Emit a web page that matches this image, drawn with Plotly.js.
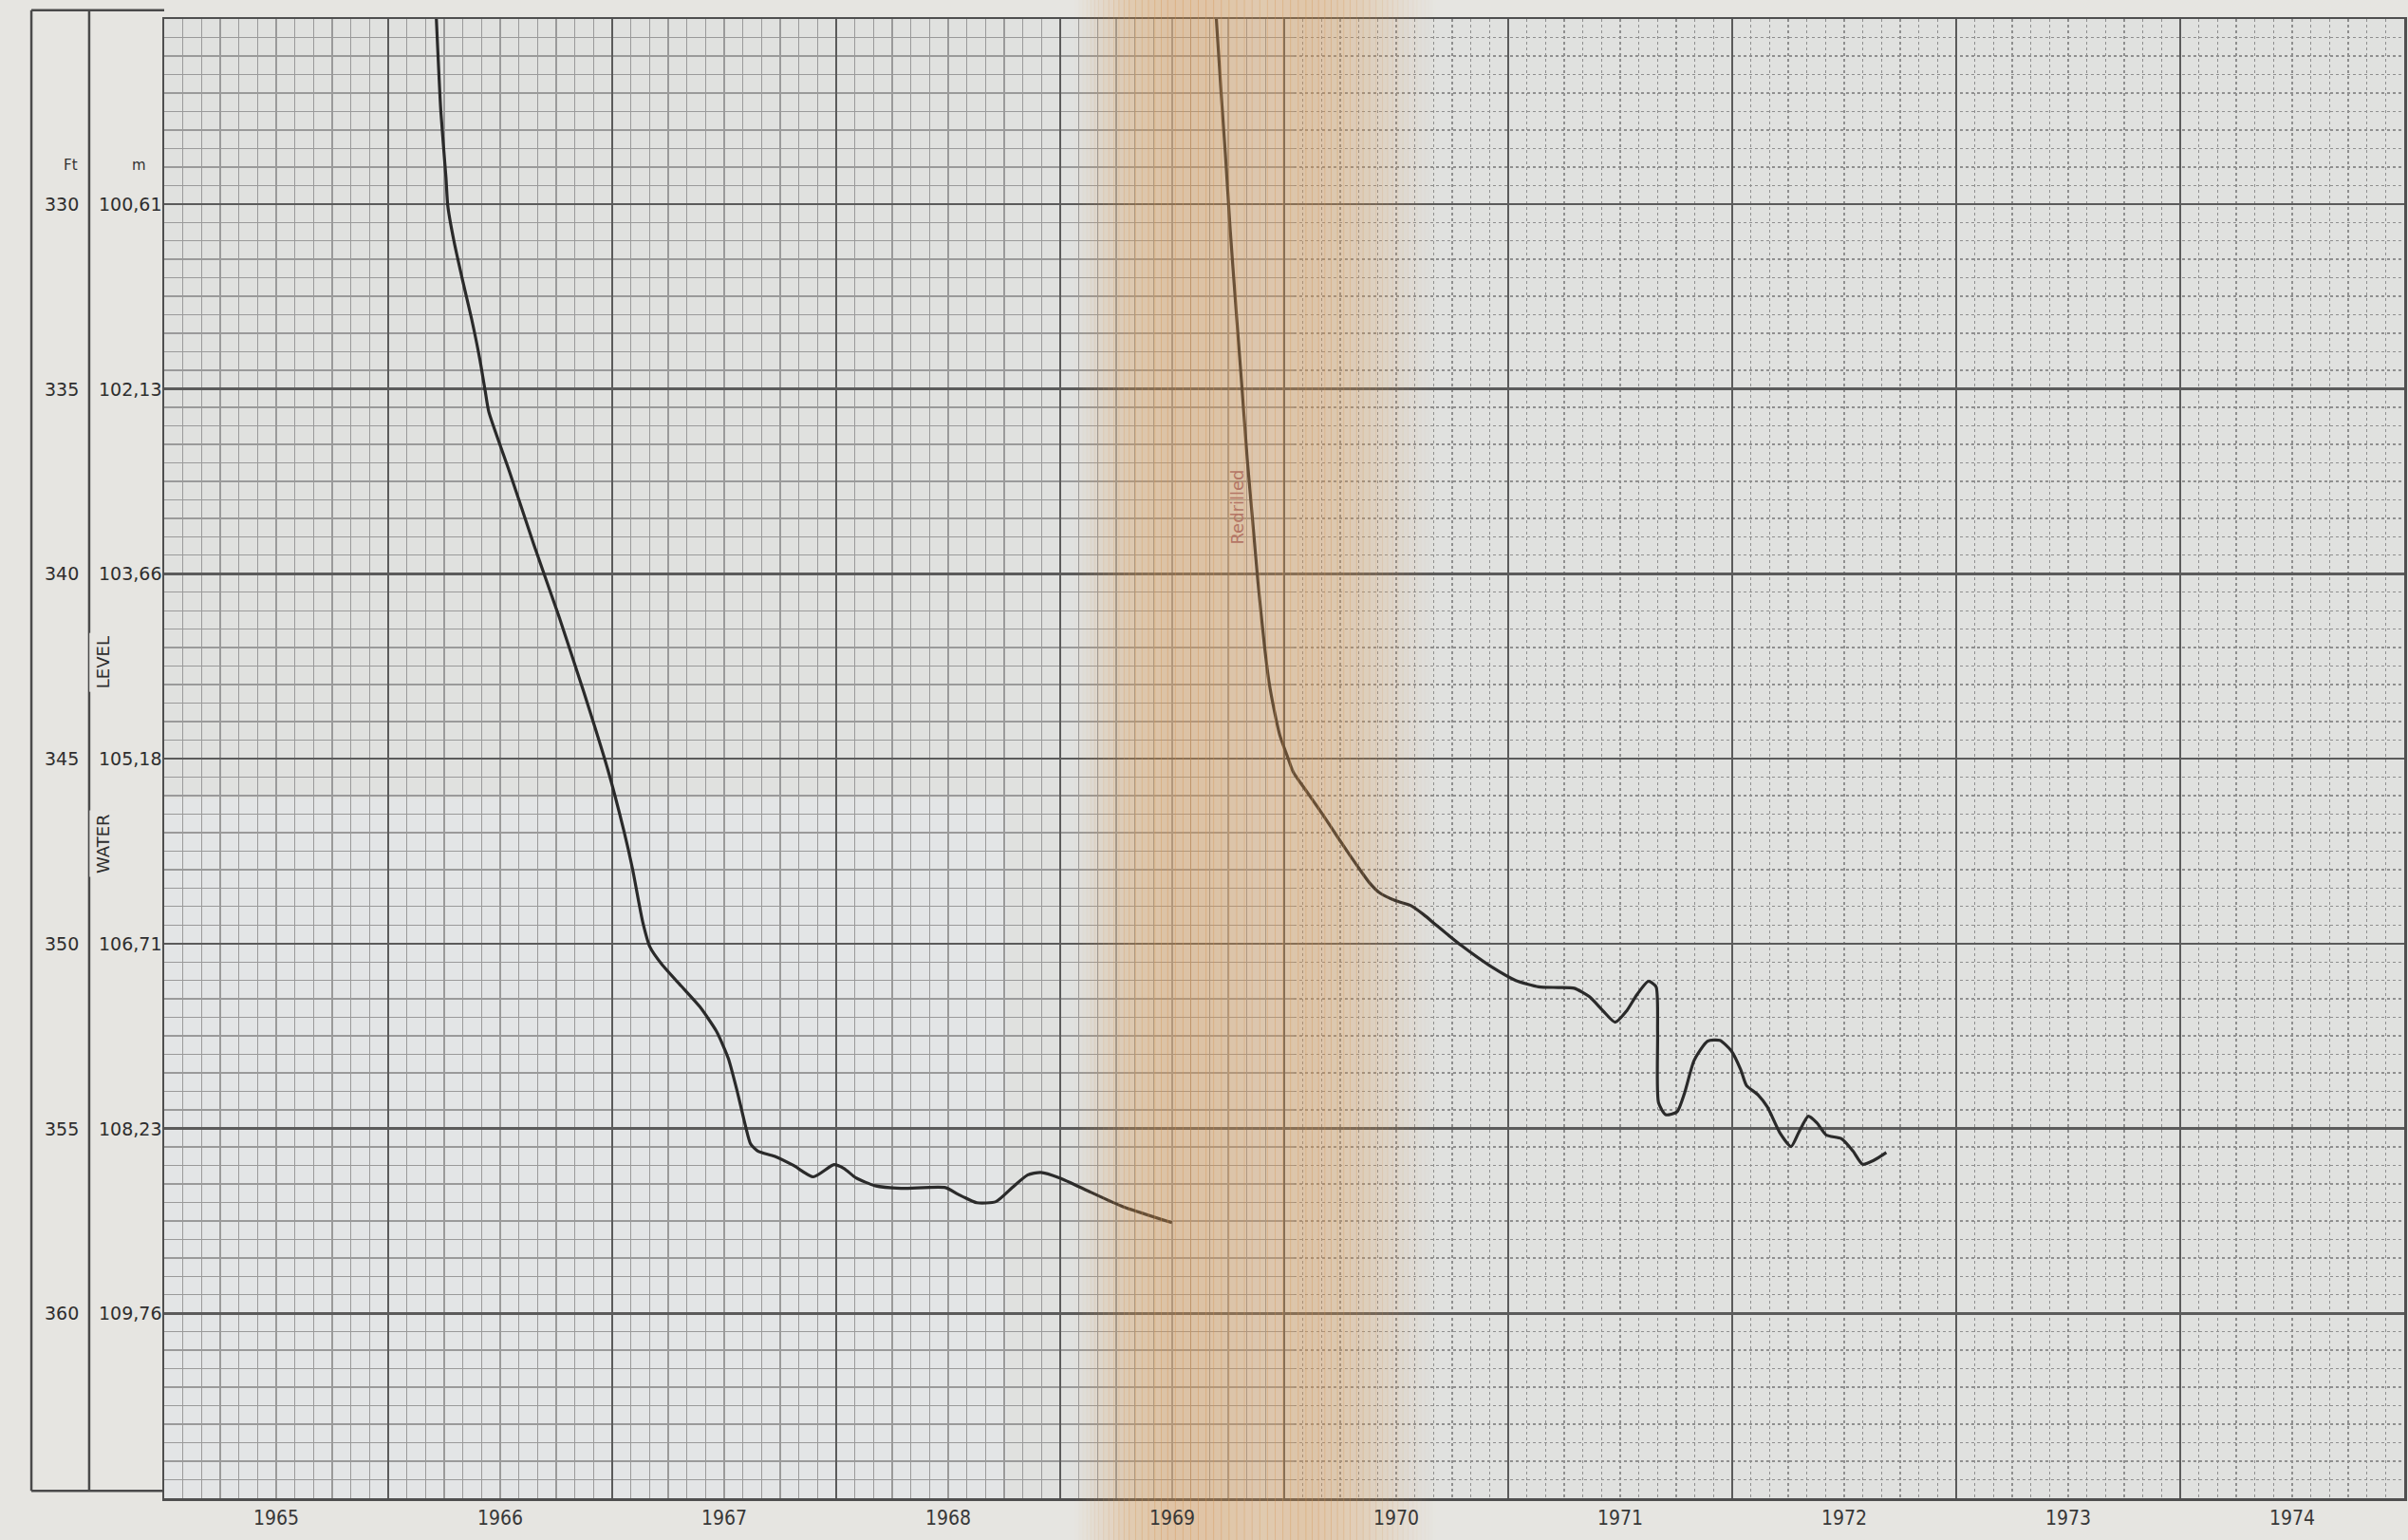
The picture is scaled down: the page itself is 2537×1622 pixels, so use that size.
<!DOCTYPE html>
<html>
<head>
<meta charset="utf-8">
<script src="https://cdn.plot.ly/plotly-3.0.1.min.js"></script>
<style>
html,body{margin:0;padding:0;background:#e7e6e2;}
#chart{width:2537px;height:1622px;}
</style>
</head>
<body>
<div id="chart"></div>
<script>
// ---------- data ----------
const yearLabels  = ['1965','1966','1967','1968','1969','1970','1971','1972','1973','1974'];
const yearCenters = [1965.5,1966.5,1967.5,1968.5,1969.5,1970.5,1971.5,1972.5,1973.5,1974.5];

const feetTicks  = [330,335,340,345,350,355,360];
const feetLabels = ['330','335','340','345','350','355','360'];
const meterLabels = ['100,61','102,13','103,66','105,18','106,71','108,23','109,76'];

// first well (water level, ft)
const well1Date = [1966.215,1966.235,1966.258,1966.266,1966.293,1966.333,1966.372,1966.409,1966.433,1966.449,
  1966.542,1966.650,1966.763,1966.871,1966.980,1967.052,1967.090,1967.136,1967.169,1967.221,
  1967.308,1967.391,1967.465,1967.518,1967.559,1967.596,1967.618,1967.652,1967.724,1967.809,
  1967.898,1967.990,1968.034,1968.089,1968.174,1968.289,1968.488,1968.544,1968.628,1968.713,
  1968.786,1968.854,1968.913,1968.998,1969.138,1969.278,1969.499];
const well1Level = [325.0,327.5,329.3,330.05,330.99,332.09,333.10,334.20,335.06,335.62,
  337.25,339.21,341.17,343.16,345.29,346.95,347.96,349.41,350.10,350.56,
  351.15,351.71,352.37,353.10,354.02,354.96,355.42,355.62,355.75,356.00,
  356.31,355.98,356.08,356.34,356.55,356.62,356.60,356.78,357.01,356.98,
  356.60,356.26,356.19,356.34,356.73,357.11,357.55];

// redrilled well
const well2Date = [1969.697,1969.718,1969.737,1969.759,1969.784,1969.810,1969.835,1969.859,1969.883,1969.911,
  1969.932,1969.957,1969.981,1970.013,1970.040,1970.097,1970.157,1970.212,1970.267,1970.326,
  1970.381,1970.424,1970.496,1970.564,1970.623,1970.678,1970.792,1970.928,1971.034,1971.136,
  1971.223,1971.295,1971.363,1971.423,1971.478,1971.529,1971.575,1971.626,1971.660,1971.667,
  1971.671,1971.703,1971.754,1971.788,1971.830,1971.890,1971.945,1971.996,1972.038,1972.064,
  1972.115,1972.157,1972.212,1972.263,1972.297,1972.340,1972.378,1972.420,1972.488,1972.539,
  1972.582,1972.633,1972.688];
const well2Level = [325.0,326.96,328.62,330.70,332.77,334.85,336.90,338.56,340.24,341.90,
  342.92,343.74,344.38,344.92,345.36,345.86,346.38,346.88,347.38,347.90,
  348.36,348.62,348.84,348.97,349.22,349.50,350.06,350.64,351.00,351.17,
  351.19,351.21,351.44,351.82,352.13,351.82,351.38,351.02,351.17,352.40,
  354.30,354.63,354.55,354.03,353.16,352.64,352.62,352.90,353.41,353.84,
  354.09,354.42,355.11,355.49,355.11,354.67,354.85,355.18,355.28,355.61,
  355.97,355.86,355.65];

const redrillNote = 'Redrilled';
const redrillAt = {x: 1969.79, y: 338.2};

// ---------- styling ----------
const INK = '#2a2a2a';
const PAPER = '#e6e5e1';
const COL_OUTER = -0.0593, COL_SEP = -0.0335;
const FEET_X = -0.0458, METER_X = -0.0152;
const X_START = 1965, X_END = 1975;
// the right half of the sheet has a fainter, broken minor ruling; split half a month after 1970
const SPLIT = 1970 + 1/24;
const SPLIT_DOM = (SPLIT - X_START) / (X_END - X_START);

const curveLine = {color: INK, width: 3.2, shape: 'spline', smoothing: 0.6};
const traces = [
  {x: well1Date, y: well1Level, xaxis:'x', yaxis:'y', mode: 'lines', hoverinfo: 'skip', showlegend: false, line: curveLine},
  {x: well2Date, y: well2Level, xaxis:'x', yaxis:'y', mode: 'lines', hoverinfo: 'skip', showlegend: false, line: curveLine},
  {x: well2Date, y: well2Level, xaxis:'x2', yaxis:'y2', mode: 'lines', hoverinfo: 'skip', showlegend: false, line: curveLine}
];

const shapes = [];
// slightly bluish, lighter lower-left part of the sheet
shapes.push({type:'rect', xref:'paper', yref:'paper', x0:0, x1:0.376, y0:0, y1:0.473,
  fillcolor:'rgba(230,234,240,0.45)', line:{width:0}, layer:'below'});

// label column frame
const lineStyle = {color:'#4a4a4a', width:2.5};
shapes.push({type:'line', xref:'paper', yref:'paper', x0:COL_OUTER, x1:COL_OUTER, y0:0.005, y1:1.006, line:lineStyle});
shapes.push({type:'line', xref:'paper', yref:'paper', x0:COL_SEP, x1:COL_SEP, y0:0.005, y1:1.006, line:lineStyle});
shapes.push({type:'line', xref:'paper', yref:'paper', x0:COL_OUTER, x1:0, y0:1.006, y1:1.006, line:lineStyle});
shapes.push({type:'line', xref:'paper', yref:'paper', x0:COL_OUTER, x1:0, y0:0.005, y1:0.005, line:lineStyle});

// book-gutter discolouration of the scanned sheet, drawn as a soft band
const bandX = [0.4066,0.4169,0.4306,0.4478,0.4683,0.4889,0.5095,0.5264,0.5437,0.5574,0.5677];
const bandA = [0,0.3,0.75,0.95,0.95,0.8,0.9,0.75,0.42,0.15,0];
const PEAK = 0.42;
for (let s = 0; s < bandX.length - 1; s++) {
  const steps = 6;
  for (let k = 0; k < steps; k++) {
    const t0 = k / steps, t1 = (k + 1) / steps, tm = (t0 + t1) / 2;
    const a = (bandA[s] + (bandA[s+1] - bandA[s]) * tm) * PEAK;
    const x0 = bandX[s] + (bandX[s+1] - bandX[s]) * t0;
    const x1 = bandX[s] + (bandX[s+1] - bandX[s]) * t1 + 0.0004;
    shapes.push({type:'rect', xref:'paper', yref:'paper', x0:x0, x1:x1, y0:-0.03, y1:1.02,
      fillcolor:'rgba(214,148,78,' + a.toFixed(3) + ')', line:{width:0}, layer:'above'});
  }
}

const annotations = [];
const labelFont = {family:'DejaVu Sans, Noto Sans, sans-serif', size:19, color:'#2e2e2e'};
feetTicks.forEach((v, i) => {
  annotations.push({xref:'paper', yref:'y', x:FEET_X, y:v, text:feetLabels[i], showarrow:false,
    xanchor:'center', yanchor:'middle', font:labelFont});
  annotations.push({xref:'paper', yref:'y', x:METER_X, y:v, text:meterLabels[i], showarrow:false,
    xanchor:'center', yanchor:'middle', font:labelFont});
});
annotations.push({xref:'paper', yref:'y', x:FEET_X, y:328.95, text:'Ft', showarrow:false,
  font:{family:'DejaVu Sans, sans-serif', size:15, color:'#333'}});
annotations.push({xref:'paper', yref:'y', x:METER_X, y:328.95, text:'m', showarrow:false,
  font:{family:'DejaVu Sans, sans-serif', size:15, color:'#333'}});
annotations.push({xref:'paper', yref:'y', x:COL_SEP, y:342.4, text:'LEVEL', showarrow:false, textangle:-90,
  bgcolor:PAPER, borderpad:3, font:{family:'DejaVu Sans, sans-serif', size:18, color:'#2e2e2e'}});
annotations.push({xref:'paper', yref:'y', x:COL_SEP, y:347.3, text:'WATER', showarrow:false, textangle:-90,
  bgcolor:PAPER, borderpad:3, font:{family:'DejaVu Sans, sans-serif', size:18, color:'#2e2e2e'}});
yearLabels.forEach((t, i) => {
  annotations.push({xref: yearCenters[i] < SPLIT ? 'x' : 'x2', yref:'paper', x:yearCenters[i], y:-0.0135,
    text:t, showarrow:false, xanchor:'center', yanchor:'middle',
    font:{family:'Liberation Sans Narrow, DejaVu Sans Condensed, sans-serif', size:21, color:'#383838'}});
});
annotations.push({xref:'x', yref:'y', x:redrillAt.x, y:redrillAt.y, text:redrillNote, showarrow:false,
  textangle:-90, font:{family:'DejaVu Sans, sans-serif', size:18, color:'#b47666'}});

const BASE = {showgrid: true, gridcolor: '#5b5b5b', gridwidth: 2.5,
  showticklabels: false, ticks: '', zeroline: false,
  showline: true, linecolor: '#4f4f4f', linewidth: 2.5};
const solidMinor = {showgrid: true, gridcolor: '#9a9a9a', gridwidth: 1.4, ticks: ''};
const brokenMinor = {showgrid: true, gridcolor: '#8f8f8f', gridwidth: 1.4, griddash: '3px,3px', ticks: ''};

const layout = {
  width: 2537, height: 1622,
  margin: {l:173, r:4, t:20, b:44, pad:0},
  paper_bgcolor: PAPER,
  plot_bgcolor: '#e0e1df',
  showlegend: false,
  xaxis: Object.assign({}, BASE, {domain:[0, SPLIT_DOM], anchor:'y', mirror:true, range:[X_START, SPLIT], tick0:1965, dtick:1,
    minor: Object.assign({tick0:1965, dtick:1/12}, solidMinor)}),
  yaxis: Object.assign({}, BASE, {domain:[0, 1], anchor:'x', side:'left', mirror:false, range:[365, 325], tick0:325, dtick:5,
    minor: Object.assign({tick0:325, dtick:0.5}, solidMinor)}),
  xaxis2: Object.assign({}, BASE, {domain:[SPLIT_DOM, 1], anchor:'y2', mirror:true, range:[SPLIT, X_END], tick0:1965, dtick:1,
    minor: Object.assign({tick0:1965, dtick:1/12}, brokenMinor)}),
  yaxis2: Object.assign({}, BASE, {domain:[0, 1], anchor:'x2', side:'right', mirror:false, range:[365, 325], tick0:325, dtick:5,
    minor: Object.assign({tick0:325, dtick:0.5}, brokenMinor)}),
  shapes: shapes,
  annotations: annotations
};

Plotly.newPlot('chart', traces, layout, {staticPlot: true, displayModeBar: false});
</script>
</body>
</html>
